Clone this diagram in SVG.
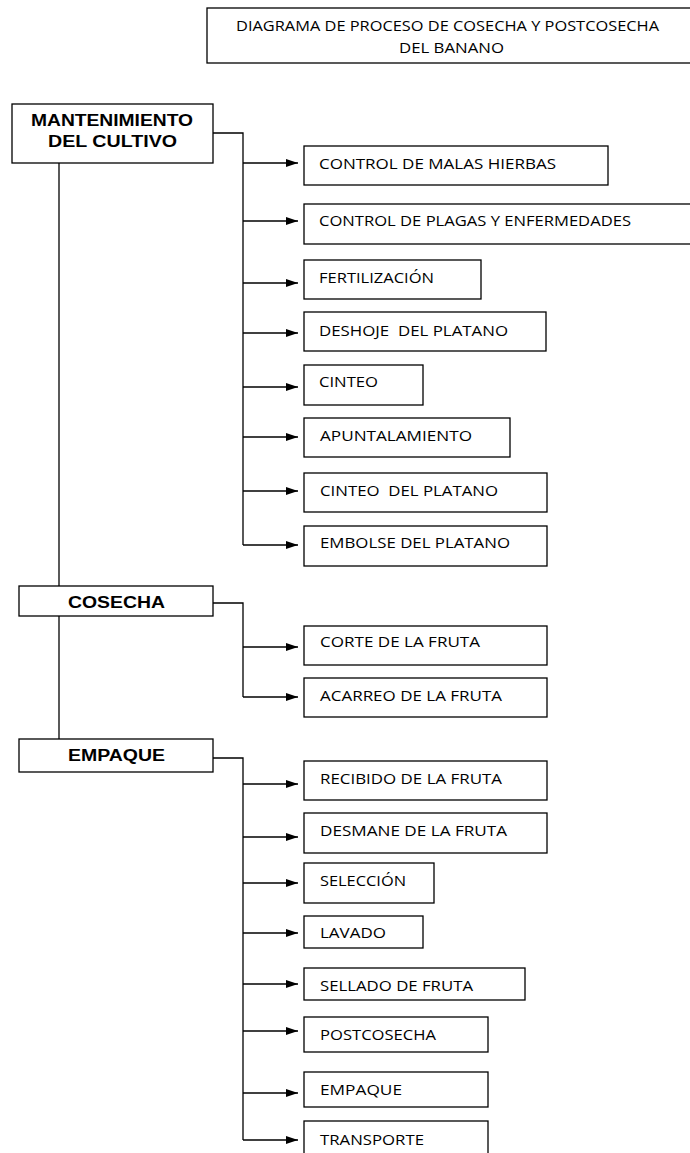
<svg xmlns="http://www.w3.org/2000/svg" width="690" height="1153" viewBox="0 0 690 1153">
  <style>
    .box { fill: #ffffff; stroke: #000000; stroke-width: 1.3; }
    .hdr { font-family: "Liberation Sans", Arial, sans-serif; font-weight: bold; font-size: 16px; fill: #000; text-anchor: middle; }
    .lbl { font-family: "Open Sans", "Liberation Sans", sans-serif; font-size: 15px; fill: #000; }
    .ttl { font-family: "Open Sans", "Liberation Sans", sans-serif; font-size: 14.5px; fill: #000; text-anchor: middle; }
    .ln { fill: none; stroke: #000000; stroke-width: 1.3; }
    .ar { fill: none; stroke: #000000; stroke-width: 1.3; marker-end: url(#arrow); }
  </style>
  <defs>
    <marker id="arrow" markerUnits="userSpaceOnUse" markerWidth="12" markerHeight="8" refX="12" refY="4" orient="auto">
      <path d="M0,0 L12,4 L0,8 z" fill="#000000"/>
    </marker>
  </defs>
  <rect width="690" height="1153" fill="#ffffff"/>

  <g id="connectors">
    <line class="ln" x1="59" y1="163" x2="59" y2="586"/>
    <line class="ln" x1="59" y1="616" x2="59" y2="739"/>
    <polyline class="ln" points="213,133 243,133 243,545"/>
    <line class="ar" x1="243" y1="163" x2="298" y2="163"/>
    <line class="ar" x1="243" y1="221" x2="298" y2="221"/>
    <line class="ar" x1="243" y1="283" x2="298" y2="283"/>
    <line class="ar" x1="243" y1="333" x2="298" y2="333"/>
    <line class="ar" x1="243" y1="387" x2="298" y2="387"/>
    <line class="ar" x1="243" y1="437" x2="298" y2="437"/>
    <line class="ar" x1="243" y1="491" x2="298" y2="491"/>
    <line class="ar" x1="243" y1="545" x2="298" y2="545"/>
    <polyline class="ln" points="213,603 243,603 243,697"/>
    <line class="ar" x1="243" y1="647" x2="298" y2="647"/>
    <line class="ar" x1="243" y1="697" x2="298" y2="697"/>
    <polyline class="ln" points="213,758 243,758 243,1140"/>
    <line class="ar" x1="243" y1="784" x2="298" y2="784"/>
    <line class="ar" x1="243" y1="837" x2="298" y2="837"/>
    <line class="ar" x1="243" y1="883" x2="298" y2="883"/>
    <line class="ar" x1="243" y1="933" x2="298" y2="933"/>
    <line class="ar" x1="243" y1="984" x2="298" y2="984"/>
    <line class="ar" x1="243" y1="1031" x2="298" y2="1031"/>
    <line class="ar" x1="243" y1="1093" x2="298" y2="1093"/>
    <line class="ar" x1="243" y1="1140" x2="298" y2="1140"/>
  </g>

  <g id="title">
    <rect class="box" x="207" y="8" width="500" height="55"/>
    <text class="ttl" x="447.5" y="31" textLength="423" lengthAdjust="spacingAndGlyphs">DIAGRAMA DE PROCESO DE COSECHA Y POSTCOSECHA</text>
    <text class="ttl" x="451.5" y="53" textLength="105" lengthAdjust="spacingAndGlyphs">DEL BANANO</text>
  </g>

  <g id="mantenimiento">
    <rect class="box" x="12" y="104" width="201" height="59"/>
    <text class="hdr" x="112" y="126" textLength="162" lengthAdjust="spacingAndGlyphs">MANTENIMIENTO</text>
    <text class="hdr" x="112.5" y="147" textLength="129" lengthAdjust="spacingAndGlyphs">DEL CULTIVO</text>
  </g>
  <g id="cosecha">
    <rect class="box" x="19" y="586" width="194" height="30"/>
    <text class="hdr" x="116.5" y="608" textLength="97" lengthAdjust="spacingAndGlyphs">COSECHA</text>
  </g>
  <g id="empaque">
    <rect class="box" x="19" y="739" width="194" height="33"/>
    <text class="hdr" x="116.5" y="761" textLength="97" lengthAdjust="spacingAndGlyphs">EMPAQUE</text>
  </g>

  <g id="control-malas-hierbas">
    <rect class="box" x="304" y="146" width="304" height="39"/>
    <text class="lbl" x="319" y="169" textLength="237" lengthAdjust="spacingAndGlyphs">CONTROL DE MALAS HIERBAS</text>
  </g>
  <g id="control-plagas">
    <rect class="box" x="304" y="204" width="400" height="40"/>
    <text class="lbl" x="319" y="226" textLength="312" lengthAdjust="spacingAndGlyphs">CONTROL DE PLAGAS Y ENFERMEDADES</text>
  </g>
  <g id="fertilizacion">
    <rect class="box" x="304" y="260" width="177" height="39"/>
    <text class="lbl" x="319" y="283" textLength="115" lengthAdjust="spacingAndGlyphs">FERTILIZACIÓN</text>
  </g>
  <g id="deshoje">
    <rect class="box" x="304" y="312" width="242" height="39"/>
    <text class="lbl" x="319" y="336" textLength="189" lengthAdjust="spacingAndGlyphs" xml:space="preserve">DESHOJE  DEL PLATANO</text>
  </g>
  <g id="cinteo">
    <rect class="box" x="304" y="365" width="119" height="40"/>
    <text class="lbl" x="319" y="387" textLength="59" lengthAdjust="spacingAndGlyphs">CINTEO</text>
  </g>
  <g id="apuntalamiento">
    <rect class="box" x="304" y="418" width="206" height="39"/>
    <text class="lbl" x="320" y="441" textLength="152" lengthAdjust="spacingAndGlyphs">APUNTALAMIENTO</text>
  </g>
  <g id="cinteo-platano">
    <rect class="box" x="304" y="473" width="243" height="39"/>
    <text class="lbl" x="320" y="496" textLength="178" lengthAdjust="spacingAndGlyphs" xml:space="preserve">CINTEO  DEL PLATANO</text>
  </g>
  <g id="embolse">
    <rect class="box" x="304" y="526" width="243" height="40"/>
    <text class="lbl" x="320" y="548" textLength="190" lengthAdjust="spacingAndGlyphs">EMBOLSE DEL PLATANO</text>
  </g>

  <g id="corte">
    <rect class="box" x="304" y="626" width="243" height="39"/>
    <text class="lbl" x="320" y="647" textLength="160" lengthAdjust="spacingAndGlyphs">CORTE DE LA FRUTA</text>
  </g>
  <g id="acarreo">
    <rect class="box" x="304" y="678" width="243" height="39"/>
    <text class="lbl" x="320" y="701" textLength="182" lengthAdjust="spacingAndGlyphs">ACARREO DE LA FRUTA</text>
  </g>

  <g id="recibido">
    <rect class="box" x="304" y="761" width="243" height="39"/>
    <text class="lbl" x="320" y="784" textLength="182" lengthAdjust="spacingAndGlyphs">RECIBIDO DE LA FRUTA</text>
  </g>
  <g id="desmane">
    <rect class="box" x="304" y="813" width="243" height="40"/>
    <text class="lbl" x="320" y="836" textLength="187" lengthAdjust="spacingAndGlyphs">DESMANE DE LA FRUTA</text>
  </g>
  <g id="seleccion">
    <rect class="box" x="304" y="863" width="130" height="40"/>
    <text class="lbl" x="320" y="886" textLength="86" lengthAdjust="spacingAndGlyphs">SELECCIÓN</text>
  </g>
  <g id="lavado">
    <rect class="box" x="304" y="916" width="119" height="32"/>
    <text class="lbl" x="320" y="938" textLength="66" lengthAdjust="spacingAndGlyphs">LAVADO</text>
  </g>
  <g id="sellado">
    <rect class="box" x="304" y="968" width="221" height="32"/>
    <text class="lbl" x="320" y="991" textLength="153" lengthAdjust="spacingAndGlyphs">SELLADO DE FRUTA</text>
  </g>
  <g id="postcosecha">
    <rect class="box" x="304" y="1017" width="184" height="35"/>
    <text class="lbl" x="320" y="1040" textLength="116" lengthAdjust="spacingAndGlyphs">POSTCOSECHA</text>
  </g>
  <g id="empaque-paso">
    <rect class="box" x="304" y="1072" width="184" height="35"/>
    <text class="lbl" x="320" y="1095" textLength="82" lengthAdjust="spacingAndGlyphs">EMPAQUE</text>
  </g>
  <g id="transporte">
    <rect class="box" x="304" y="1121" width="184" height="45"/>
    <text class="lbl" x="320" y="1145" textLength="104" lengthAdjust="spacingAndGlyphs">TRANSPORTE</text>
  </g>
</svg>
